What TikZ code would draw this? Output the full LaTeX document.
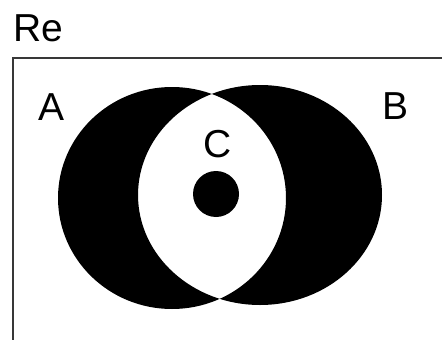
\documentclass[tikz,border=0pt]{standalone}
\usepackage{fontspec}
\setmainfont{Liberation Sans}
\begin{document}
\begin{tikzpicture}[x=1pt,y=-1pt,
  lbl/.style={inner sep=0pt,anchor=base,font=\fontsize{39}{42}\selectfont},
  frame/.style={draw=black!78,line width=2pt}]
\useasboundingbox (0,0) rectangle (442,340);
\clip (0,0) rectangle (442,340);
\fill[white] (0,0) rectangle (442,340);
\coordinate (fbl) at (13,345);
\coordinate (ftl) at (13,58);
\coordinate (ftr) at (450,58);
\draw[frame] (fbl) -- (ftl) -- (ftr);
\fill[black,even odd rule] (172,198) ellipse [x radius=114,y radius=111]
                           (260,195) ellipse [x radius=122,y radius=110];
\fill[black] (216,194) circle [radius=23];
\node[lbl,anchor=base west] (re) at (13,41) {Re};
\node[lbl] (a) at (52,120) {A};
\node[lbl] (b) at (396,119) {B};
\node[lbl] (c) at (218,157) {C};
\end{tikzpicture}
\end{document}
